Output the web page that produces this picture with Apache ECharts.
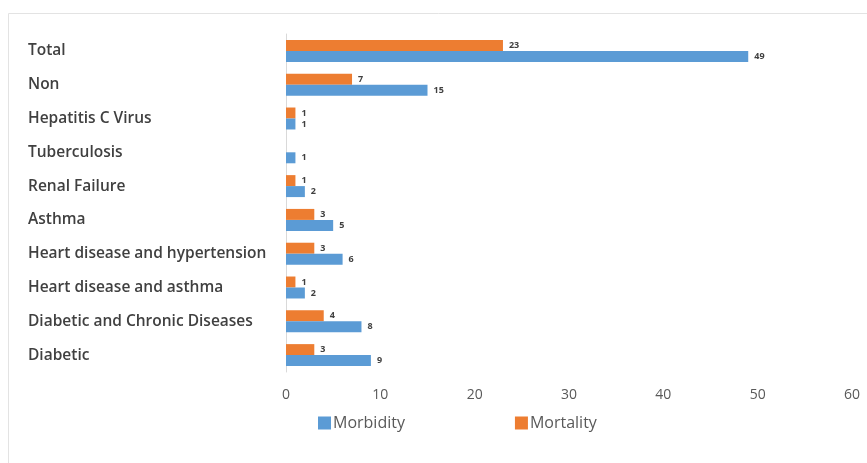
<!DOCTYPE html>
<html><head><meta charset="utf-8">
<script src="https://cdn.jsdelivr.net/npm/echarts@6/dist/echarts.min.js"></script>
<style>html,body{margin:0;padding:0;background:#fff}#c{width:867px;height:463px}</style>
</head><body><div id="c"></div>
<script>
const categories = ['Diabetic','Diabetic and Chronic Diseases','Heart disease and asthma','Heart disease and hypertension','Asthma','Renal Failure','Tuberculosis','Hepatitis C Virus','Non','Total'];
const morbidity = [9, 8, 2, 6, 5, 2, 1, 1, 15, 49];
const mortality = [3, 4, 1, 3, 3, 1, null, 1, 7, 23];
const xTicks = [0, 10, 20, 30, 40, 50, 60];

const chart = echarts.init(document.getElementById('c'));
const lbl = {show: true, position: 'right', distance: 6, fontSize: 9, fontWeight: 'bold', color: '#404040', fontFamily: 'Open Sans'};
chart.setOption({
  animation: false,
  graphic: [{type: 'rect', shape: {x: 8.5, y: 13.5, width: 900, height: 500}, style: {fill: 'none', stroke: '#e3e3e3', lineWidth: 1}, silent: true}],
  grid: {left: 286, right: 15, top: 34, bottom: 91, containLabel: false},
  legend: {
    data: ['Morbidity', 'Mortality'], left: 313, top: 410, itemWidth: 13, itemHeight: 13, itemGap: 110,
    icon: 'rect', textStyle: {fontSize: 16, color: '#595959', fontFamily: 'Open Sans', padding: [0, 0, 0, -3]}
  },
  xAxis: {
    type: 'value', min: xTicks[0], max: xTicks[xTicks.length - 1], interval: 10,
    axisLine: {show: false}, axisTick: {show: false}, splitLine: {show: false},
    axisLabel: {fontSize: 14, color: '#595959', margin: 16, fontFamily: 'Open Sans'}
  },
  yAxis: {
    type: 'category', data: categories,
    axisLine: {show: true, lineStyle: {color: '#d9d9d9', width: 1}}, axisTick: {show: false},
    axisLabel: {align: 'left', margin: 258, fontSize: 15.5, fontWeight: 600, color: '#404040', fontFamily: 'Open Sans', padding: [7, 0, 0, 0]}
  },
  series: [
    {name: 'Mortality', type: 'bar', data: mortality, barGap: '0%', barCategoryGap: '35%', itemStyle: {color: '#ED7D31'}, label: lbl},
    {name: 'Morbidity', type: 'bar', data: morbidity, barGap: '0%', barCategoryGap: '35%', itemStyle: {color: '#5B9BD5'}, label: lbl}
  ]
});
</script></body></html>
